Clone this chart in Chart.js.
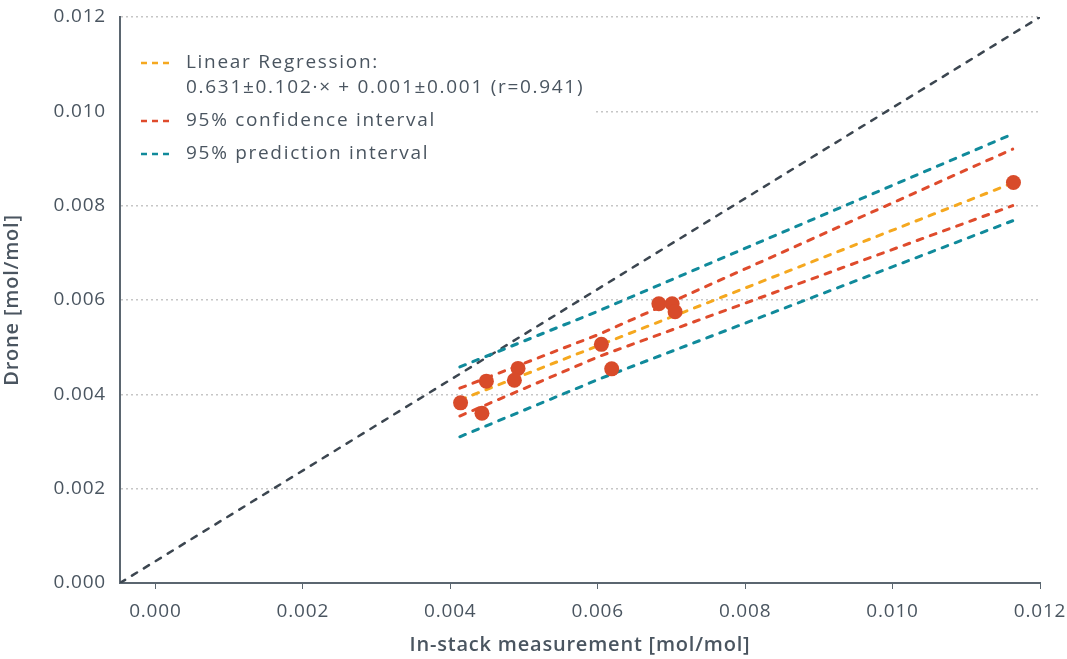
<!DOCTYPE html>
<html>
<head>
<meta charset="utf-8">
<script src="https://cdn.jsdelivr.net/npm/chart.js@4"></script>
<style>
  html, body { margin: 0; padding: 0; background: #fff; }
  #wrap { width: 1067px; height: 659px; }
</style>
</head>
<body>
<div id="wrap"><canvas id="chart" width="1067" height="659"></canvas></div>
<script>
const stackX = [0.00414, 0.00443, 0.00449, 0.00492, 0.00487, 0.00605, 0.00619, 0.00683, 0.00701, 0.00705, 0.01164];
const droneY = [0.00382, 0.00360, 0.00428, 0.00455, 0.00430, 0.00506, 0.00454, 0.00592, 0.00592, 0.00575, 0.00849];

// regression line and bands, sampled at left end, middle, right end
const bandX   = [0.00413, 0.00603, 0.01163];
const fitY    = [0.00388, 0.00506, 0.00848];
const ciUpper = [0.00413, 0.00528, 0.00920];
const ciLower = [0.00354, 0.00481, 0.00800];
const piUpper = [0.00458, 0.00578, 0.00952];
const piLower = [0.00310, 0.00433, 0.00768];

// 1:1 reference line, corner to corner of the plot
const refX = [-0.00048, 0.012];
const refY = [0, 0.012];

const tickVals = [0, 0.002, 0.004, 0.006, 0.008, 0.010, 0.012];

const legendItems = [
  { color: "#f5a81f", lines: ["Linear Regression:", "0.631\u00b10.102\u00b7\u00d7 + 0.001\u00b10.001 (r=0.941)"] },
  { color: "#df4b2c", lines: ["95% confidence interval"] },
  { color: "#108a9b", lines: ["95% prediction interval"] }
];

const FONT = "'Open Sans', 'Noto Sans', sans-serif";
const TEXT = "#4a5560";
const AXIS = "#5b6670";

function pts(xs, ys) {
  return xs.map((x, i) => ({ x: x, y: ys[i] }));
}

function dashed(label, xs, ys, color) {
  return {
    type: "line",
    label: label,
    data: pts(xs, ys),
    borderColor: color,
    borderWidth: 3,
    borderDash: [6, 8],
    borderCapStyle: "round",
    pointRadius: 0,
    fill: false,
    tension: 0
  };
}

// wider text, closer to the original typeface
const spacing = {
  id: "spacing",
  beforeUpdate(chart) { chart.ctx.letterSpacing = "0.8px"; },
  beforeDraw(chart) { chart.ctx.letterSpacing = "0.8px"; }
};

const legendBox = {
  id: "legendBox",
  beforeDatasetsDraw(chart) {
    const ctx = chart.ctx;
    const a = chart.chartArea;
    ctx.save();
    ctx.fillStyle = "#fff";
    ctx.fillRect(a.left + 1, 32, 475, 145);
    ctx.restore();
  },
  afterDraw(chart) {
    const ctx = chart.ctx;
    ctx.save();
    ctx.font = "19px " + FONT;
    ctx.letterSpacing = "1.7px";
    ctx.textBaseline = "middle";
    let y = 63;
    legendItems.forEach(item => {
      ctx.strokeStyle = item.color;
      ctx.lineWidth = 2.5;
      ctx.setLineDash([6, 5]);
      ctx.beginPath();
      ctx.moveTo(141, y);
      ctx.lineTo(172, y);
      ctx.stroke();
      ctx.fillStyle = TEXT;
      item.lines.forEach((t, i) => {
        ctx.fillText(t, 186, y + i * 25);
      });
      y += item.lines.length * 25 + 8;
    });
    ctx.restore();
  }
};

new Chart(document.getElementById("chart"), {
  type: "scatter",
  plugins: [spacing, legendBox],
  data: {
    datasets: [
      {
        type: "scatter",
        label: "Measurements",
        data: pts(stackX, droneY),
        backgroundColor: "#d84b2a",
        borderColor: "#d84b2a",
        borderWidth: 0,
        pointRadius: 7.5
      },
      dashed("Linear Regression", [bandX[0], bandX[2]], [fitY[0], fitY[2]], "#f5a81f"),
      dashed("95% confidence interval upper", bandX, ciUpper, "#df4b2c"),
      dashed("95% confidence interval lower", bandX, ciLower, "#df4b2c"),
      dashed("95% prediction interval upper", bandX, piUpper, "#108a9b"),
      dashed("95% prediction interval lower", bandX, piLower, "#108a9b"),
      Object.assign(dashed("1:1", refX, refY, "#3c4650"), { borderWidth: 2.5 })
    ]
  },
  options: {
    responsive: false,
    animation: false,
    layout: { padding: { left: 0, right: 27, top: 17, bottom: 0 } },
    plugins: {
      legend: { display: false },
      tooltip: { enabled: false }
    },
    scales: {
      x: {
        type: "linear",
        min: refX[0],
        max: 0.012,
        afterBuildTicks: s => { s.ticks = tickVals.map(v => ({ value: v })); },
        afterFit: s => { s.height = 76; s.paddingLeft = 0; s.paddingRight = 0; },
        border: { color: AXIS, width: 2 },
        grid: { drawOnChartArea: false, drawTicks: true, tickLength: 6, color: AXIS, lineWidth: 1 },
        ticks: {
          color: TEXT,
          font: { family: FONT, size: 19 },
          padding: 11,
          maxRotation: 0,
          callback: v => v.toFixed(3)
        },
        title: {
          display: true,
          text: "In-stack measurement [mol/mol]",
          color: TEXT,
          font: { family: FONT, size: 20, weight: "600" },
          padding: { top: 8, bottom: 2 }
        }
      },
      y: {
        type: "linear",
        min: 0,
        max: 0.012,
        afterBuildTicks: s => { s.ticks = tickVals.map(v => ({ value: v })); },
        afterFit: s => { s.width = 120; s.paddingTop = 0; s.paddingBottom = 0; },
        border: { color: AXIS, width: 2, dash: [2, 3] },
        grid: {
          drawTicks: false,
          color: "#c6c6c6",
          lineWidth: 1.6
        },
        ticks: {
          color: TEXT,
          font: { family: FONT, size: 19 },
          padding: 14,
          callback: v => v.toFixed(3)
        },
        title: {
          display: true,
          text: "Drone [mol/mol]",
          color: TEXT,
          font: { family: FONT, size: 20, weight: "600" },
          padding: { top: 0, bottom: 0 }
        }
      }
    }
  }
});
</script>
</body>
</html>
